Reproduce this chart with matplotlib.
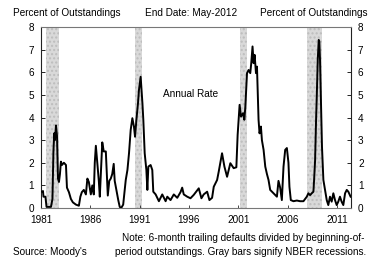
import matplotlib
matplotlib.use("Agg")
import matplotlib.pyplot as plt

plt.rcParams["font.family"] = ["Liberation Sans", "DejaVu Sans"]

# monthly-ish readings of the default rate, decimal year -> percent
years = [
    1981.10, 1981.20, 1981.25, 1981.45, 1981.56, 1982.01, 1982.16, 1982.26, 1982.34, 1982.41,
    1982.52, 1982.62, 1982.72, 1982.82, 1982.92, 1983.02, 1983.12, 1983.32, 1983.53, 1983.63,
    1983.83, 1984.03, 1984.23, 1984.54, 1984.84, 1984.99, 1985.14, 1985.34, 1985.55, 1985.70,
    1985.85, 1986.05, 1986.20, 1986.35, 1986.45, 1986.56, 1986.71, 1986.86, 1986.96, 1987.11,
    1987.21, 1987.36, 1987.57, 1987.67, 1987.77, 1987.92, 1988.07, 1988.22, 1988.37, 1988.47,
    1988.68, 1988.83, 1988.98, 1989.13, 1989.33, 1989.59, 1989.76, 1989.92, 1990.09, 1990.26,
    1990.42, 1990.53, 1990.67, 1990.83, 1990.93, 1991.10, 1991.17, 1991.28, 1991.37, 1991.51,
    1991.68, 1991.78, 1991.88, 1992.11, 1992.28, 1992.38, 1992.62, 1992.95, 1993.29, 1993.63,
    1993.80, 1994.13, 1994.46, 1994.81, 1995.14, 1995.31, 1995.47, 1995.82, 1996.15, 1996.48,
    1996.99, 1997.26, 1997.49, 1997.84, 1998.07, 1998.34, 1998.51, 1998.85, 1999.01, 1999.35,
    1999.59, 1999.86, 2000.19, 2000.53, 2000.80, 2000.93, 2001.13, 2001.27, 2001.48, 2001.61,
    2001.71, 2001.88, 2002.04, 2002.21, 2002.31, 2002.44, 2002.55, 2002.65, 2002.79, 2002.89,
    2003.05, 2003.15, 2003.29, 2003.39, 2003.56, 2003.73, 2003.90, 2004.06, 2004.23, 2004.57,
    2004.91, 2005.07, 2005.24, 2005.41, 2005.58, 2005.75, 2005.92, 2006.08, 2006.18, 2006.32,
    2006.59, 2006.93, 2007.26, 2007.60, 2007.94, 2008.10, 2008.27, 2008.44, 2008.61, 2008.68,
    2008.78, 2008.88, 2008.95, 2009.05, 2009.15, 2009.21, 2009.28, 2009.38, 2009.48, 2009.62,
    2009.79, 2009.96, 2010.12, 2010.29, 2010.46, 2010.63, 2010.80, 2010.97, 2011.13, 2011.30,
    2011.47, 2011.64, 2011.82, 2011.99, 2012.15, 2012.38,
]
rate = [
    0.72, 0.75, 0.50, 0.50, 0.05, 0.05, 0.40, 2.50, 3.30, 3.00,
    3.65, 3.20, 1.30, 1.15, 1.50, 2.05, 1.90, 2.00, 1.90, 0.90,
    0.70, 0.40, 0.25, 0.15, 0.10, 0.50, 0.70, 0.80, 0.60, 1.30,
    1.15, 0.60, 1.00, 0.60, 2.00, 2.75, 2.00, 1.20, 0.50, 2.00,
    2.90, 2.50, 2.50, 1.50, 0.55, 1.20, 1.30, 1.50, 1.95, 1.20,
    0.70, 0.35, 0.05, 0.00, 0.15, 1.24, 1.68, 2.42, 3.45, 3.97,
    3.60, 3.15, 3.90, 4.63, 5.22, 5.80, 5.37, 4.63, 3.90, 2.42,
    1.68, 0.80, 1.83, 1.90, 1.68, 0.72, 0.60, 0.30, 0.60, 0.30,
    0.50, 0.35, 0.60, 0.45, 0.70, 0.90, 0.60, 0.50, 0.43, 0.58,
    0.87, 0.43, 0.60, 0.72, 0.35, 0.45, 0.94, 1.24, 1.60, 2.42,
    1.83, 1.38, 1.98, 1.76, 1.80, 3.23, 4.56, 4.04, 4.19, 3.90,
    4.48, 5.96, 6.10, 5.96, 6.40, 7.14, 6.40, 6.77, 5.96, 6.25,
    3.90, 3.30, 3.60, 3.00, 2.57, 1.83, 1.50, 1.24, 0.80, 0.65,
    0.50, 1.20, 0.90, 0.35, 1.83, 2.57, 2.65, 2.00, 0.94, 0.35,
    0.30, 0.33, 0.30, 0.30, 0.50, 0.65, 0.57, 0.65, 0.72, 1.24,
    2.10, 3.90, 4.92, 6.55, 7.43, 7.36, 6.55, 4.63, 2.70, 1.24,
    0.80, 0.35, 0.13, 0.50, 0.28, 0.65, 0.35, 0.13, 0.28, 0.50,
    0.28, 0.13, 0.65, 0.80, 0.72, 0.50,
]

# NBER recessions (start, end)
recessions = [(1981.50, 1982.87), (1990.50, 1991.20), (2001.17, 2001.87), (2007.92, 2009.46)]

xtick_years = [1981, 1986, 1991, 1996, 2001, 2006, 2011]
yticks = [0, 1, 2, 3, 4, 5, 6, 7, 8]

W, H = 369, 262
fig = plt.figure(figsize=(W / 100, H / 100), dpi=100)
ax = fig.add_axes([41 / W, 1 - 208 / H, 310 / W, 181 / H])

for start, end in recessions:
    ax.axvspan(start, end, facecolor="#d9d9d9", edgecolor="#bdbdbd", hatch="....",
               linewidth=0, zorder=1)

ax.plot(years, rate, color="black", linewidth=1.4, zorder=3)
ax.text(1993.4, 5.05, "Annual Rate", fontsize=7.2, va="center", ha="left")

ax.set_xlim(1981.08, 2012.42)
ax.set_ylim(0, 8)
ax.set_xticks(xtick_years)
ax.set_xticklabels([str(y) for y in xtick_years])
ax.set_yticks(yticks)
ax.tick_params(axis="y", which="both", direction="in", length=3, width=0.6,
               left=True, right=True, labelleft=True, labelright=True,
               labelsize=7.2, pad=5)
ax.tick_params(axis="x", direction="in", length=2, width=0.5, labelsize=7.2, pad=5)

for side in ["left", "right"]:
    ax.spines[side].set_linewidth(0.8)
    ax.spines[side].set_color("#222222")
for side in ["top", "bottom"]:
    ax.spines[side].set_linestyle((0, (1, 1)))
    ax.spines[side].set_linewidth(0.8)
    ax.spines[side].set_color("#777777")

fs = 7.2
fig.text(13 / W, 1 - 13 / H, "Percent of Outstandings", fontsize=fs, ha="left", va="center")
fig.text(191 / W, 1 - 13 / H, "End Date: May-2012", fontsize=fs, ha="center", va="center")
fig.text(368 / W, 1 - 13 / H, "Percent of Outstandings", fontsize=fs, ha="right", va="center")

fig.text(13 / W, 1 - 252 / H, "Source: Moody's", fontsize=fs, ha="left", va="center")
fig.text(364 / W, 1 - 238 / H, "Note: 6-month trailing defaults divided by beginning-of-",
         fontsize=fs, ha="right", va="center")
fig.text(366 / W, 1 - 252 / H, "period outstandings. Gray bars signify NBER recessions.",
         fontsize=fs, ha="right", va="center")

fig.savefig("out.png", dpi=100)
